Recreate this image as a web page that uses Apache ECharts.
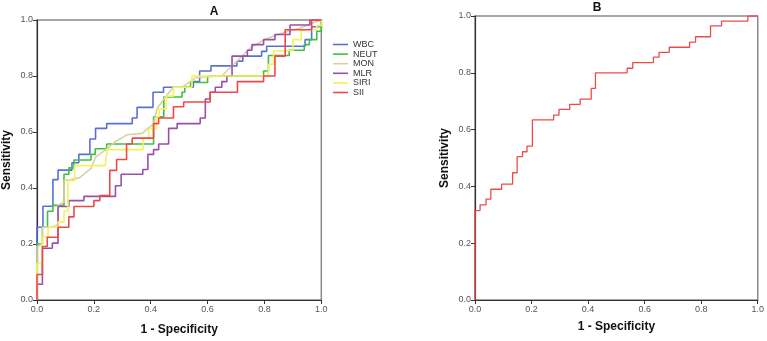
<!DOCTYPE html>
<html>
<head>
<meta charset="utf-8">
<script src="https://cdn.jsdelivr.net/npm/echarts@6/dist/echarts.min.js"></script>
<style>
html,body{margin:0;padding:0;background:#fff;}
#c{width:767px;height:341px;}
</style>
</head>
<body>
<div id="c"></div>
<script>
// ---------- Data (ROC corner points: 1 - Specificity, Sensitivity) ----------
const seriesNamesA = ['WBC', 'NEUT', 'MON', 'MLR', 'SIRI', 'SII'];
const axisTicks = [0, 0.2, 0.4, 0.6, 0.8, 1.0];

const wbcX = [0, 0, 0.021, 0.056, 0.074, 0.123, 0.147, 0.186, 0.206, 0.245, 0.335, 0.352, 0.408, 0.445, 0.55, 0.572, 0.612, 0.703, 0.724, 0.79, 0.808, 0.943, 0.966, 1];
const wbcY = [0, 0.26, 0.335, 0.43, 0.464, 0.49, 0.52, 0.575, 0.613, 0.63, 0.65, 0.688, 0.742, 0.76, 0.78, 0.818, 0.836, 0.853, 0.871, 0.888, 0.906, 0.93, 0.976, 1];

const neutX = [0, 0, 0.019, 0.037, 0.056, 0.095, 0.112, 0.13, 0.19, 0.205, 0.245, 0.41, 0.446, 0.51, 0.52, 0.54, 0.6, 0.797, 0.814, 0.887, 0.94, 0.958, 0.984, 1];
const neutY = [0, 0.2, 0.26, 0.317, 0.338, 0.449, 0.472, 0.5, 0.52, 0.54, 0.557, 0.654, 0.725, 0.742, 0.76, 0.777, 0.8, 0.818, 0.873, 0.892, 0.912, 0.93, 0.96, 1];

// MON has tied values -> drawn as a polyline through its vertices
const monX = [0, 0, 0.019, 0.019, 0.054, 0.074, 0.074, 0.095, 0.095, 0.109, 0.15, 0.19, 0.206, 0.24, 0.276, 0.3, 0.317, 0.37, 0.41, 0.422, 0.446, 0.48, 0.51, 0.56, 0.65, 0.7, 0.75, 0.8, 0.85, 0.92, 1];
const monY = [0, 0.19, 0.2, 0.26, 0.26, 0.27, 0.338, 0.35, 0.428, 0.428, 0.437, 0.47, 0.51, 0.535, 0.566, 0.58, 0.59, 0.595, 0.63, 0.683, 0.718, 0.76, 0.76, 0.795, 0.8, 0.85, 0.9, 0.93, 0.95, 0.97, 1];

const mlrX = [0, 0, 0.019, 0.054, 0.074, 0.112, 0.165, 0.276, 0.296, 0.372, 0.39, 0.41, 0.428, 0.463, 0.493, 0.574, 0.592, 0.609, 0.627, 0.65, 0.668, 0.686, 0.74, 0.756, 0.797, 0.837, 0.89, 0.96, 1];
const mlrY = [0, 0.056, 0.185, 0.203, 0.334, 0.355, 0.37, 0.408, 0.449, 0.466, 0.52, 0.537, 0.557, 0.613, 0.63, 0.65, 0.718, 0.742, 0.76, 0.78, 0.8, 0.871, 0.892, 0.912, 0.93, 0.948, 0.982, 1, 1];

const siriX = [0, 0, 0.018, 0.039, 0.074, 0.095, 0.109, 0.132, 0.241, 0.247, 0.373, 0.393, 0.42, 0.43, 0.455, 0.48, 0.545, 0.814, 0.832, 0.9, 0.93, 0.984, 1];
const siriY = [0, 0.13, 0.226, 0.26, 0.279, 0.318, 0.426, 0.48, 0.496, 0.537, 0.578, 0.613, 0.654, 0.683, 0.728, 0.76, 0.8, 0.842, 0.89, 0.93, 0.965, 0.98, 1];

const siiX = [0, 0, 0.019, 0.036, 0.074, 0.112, 0.13, 0.2, 0.221, 0.256, 0.28, 0.315, 0.335, 0.41, 0.428, 0.48, 0.516, 0.609, 0.705, 0.797, 0.837, 0.873, 0.966, 1];
const siiY = [0, 0.091, 0.191, 0.224, 0.26, 0.297, 0.334, 0.355, 0.373, 0.463, 0.502, 0.557, 0.578, 0.63, 0.65, 0.69, 0.707, 0.742, 0.78, 0.8, 0.871, 0.965, 1, 1];

const bX = [0, 0, 0.018, 0.039, 0.056, 0.094, 0.133, 0.149, 0.168, 0.184, 0.203, 0.278, 0.297, 0.335, 0.372, 0.411, 0.426, 0.538, 0.558, 0.631, 0.651, 0.687, 0.759, 0.78, 0.833, 0.872, 0.965, 1];
const bY = [0, 0.315, 0.335, 0.355, 0.39, 0.408, 0.448, 0.505, 0.522, 0.542, 0.634, 0.651, 0.671, 0.689, 0.707, 0.745, 0.80, 0.816, 0.836, 0.855, 0.872, 0.89, 0.908, 0.927, 0.965, 0.982, 1.0, 1.0];

// ---------- Chart ----------
const FONT = '"Liberation Sans", Arial, sans-serif';
const zip = (xs, ys) => xs.map((x, i) => [x, ys[i]]);
const colors = ['#5b70d4', '#3fc040', '#d9d19e', '#9a4fac', '#f3f25a', '#f04848'];

function xAx(gridIndex, nameGap) {
  return {
    gridIndex, type: 'value', min: 0, max: 1, interval: 0.2,
    name: '1 - Specificity', nameLocation: 'middle', nameGap,
    nameTextStyle: { fontFamily: FONT, fontWeight: 'bold', fontSize: 12, color: '#111' },
    axisLine: { show: true, lineStyle: { color: '#333', width: 1.2 } },
    axisTick: { show: true, length: 4, lineStyle: { color: '#333' } },
    axisLabel: { fontFamily: FONT, fontSize: 9, color: '#555', margin: 5, formatter: v => v.toFixed(1) },
    splitLine: { show: false }
  };
}
function yAx(gridIndex, nameGap) {
  return {
    gridIndex, type: 'value', min: 0, max: 1, interval: 0.2,
    name: 'Sensitivity', nameLocation: 'middle', nameGap,
    nameTextStyle: { fontFamily: FONT, fontWeight: 'bold', fontSize: 12, color: '#111' },
    axisLine: { show: true, lineStyle: { color: '#333', width: 1.2 } },
    axisTick: { show: true, length: 4, lineStyle: { color: '#333' } },
    axisLabel: { fontFamily: FONT, fontSize: 9, color: '#555', margin: 4, formatter: v => v.toFixed(1) },
    splitLine: { show: false }
  };
}

const dataA = [zip(wbcX, wbcY), zip(neutX, neutY), zip(monX, monY), zip(mlrX, mlrY), zip(siriX, siriY), zip(siiX, siiY)];
const seriesA = seriesNamesA.map((n, i) => ({
  name: n, type: 'line', xAxisIndex: 0, yAxisIndex: 0,
  data: dataA[i], step: n === 'MON' ? false : 'end',
  symbol: 'none', animation: false,
  lineStyle: { color: colors[i], width: 1.6 },
  itemStyle: { color: colors[i] }
}));

const chart = echarts.init(document.getElementById('c'), null, { renderer: 'canvas' });
chart.setOption({
  backgroundColor: '#fff',
  animation: false,
  title: [
    { text: 'A', left: 214, top: 6, padding: 0, textAlign: 'center', textStyle: { fontFamily: FONT, fontWeight: 'bold', fontSize: 12, color: '#111' } },
    { text: 'B', left: 597, top: 2, padding: 0, textAlign: 'center', textStyle: { fontFamily: FONT, fontWeight: 'bold', fontSize: 12, color: '#111' } }
  ],
  grid: [
    { left: 36.3, right: 445.7, top: 20, bottom: 36.7, show: true, borderColor: '#8a8a8a', borderWidth: 1.5, backgroundColor: 'transparent' },
    { left: 475, right: 8, top: 16, bottom: 41, show: true, borderColor: '#8a8a8a', borderWidth: 1.5, backgroundColor: 'transparent' }
  ],
  xAxis: [xAx(0, 24), xAx(1, 21)],
  yAxis: [yAx(0, 24), yAx(1, 24)],
  legend: {
    data: seriesNamesA.map(n => ({ name: n, icon: 'rect' })),
    orient: 'vertical', left: 333, top: 40, padding: 0,
    itemWidth: 15, itemHeight: 1.6, itemGap: 0.6,
    textStyle: { fontFamily: FONT, fontSize: 9, color: '#333' }
  },
  series: seriesA.concat([{
    name: 'B', type: 'line', xAxisIndex: 1, yAxisIndex: 1,
    data: zip(bX, bY), step: 'end', symbol: 'none',
    lineStyle: { color: '#ea4c4c', width: 1.3 }
  }])
});
</script>
</body>
</html>
